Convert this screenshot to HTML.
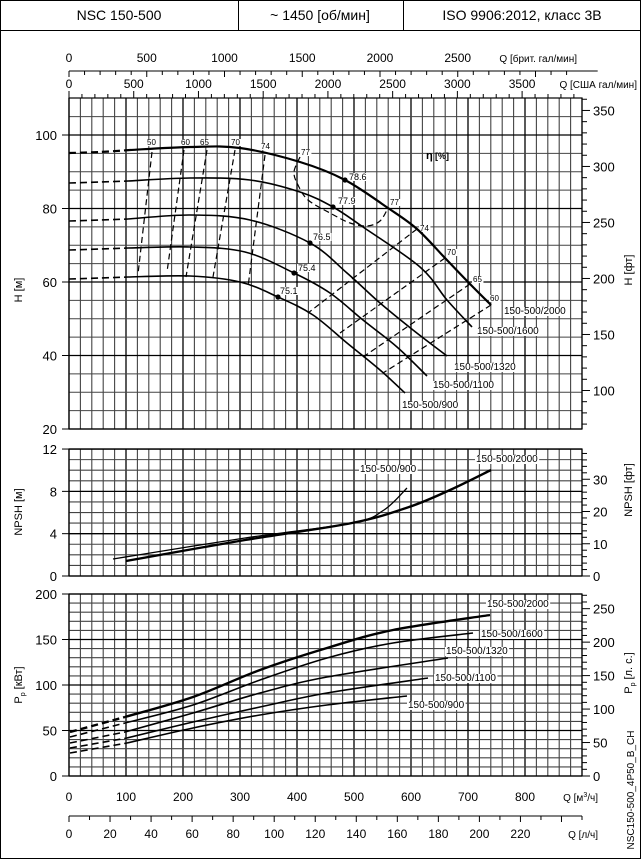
<!DOCTYPE html>
<html><head><meta charset="utf-8"><style>
body{margin:0;background:#fff}
svg{display:block;font-family:"Liberation Sans","DejaVu Sans",sans-serif}
</style></head><body>
<svg id="s" width="641" height="859" viewBox="0 0 641 859" xmlns="http://www.w3.org/2000/svg">
<rect x="0.5" y="0.5" width="640" height="858" fill="#fff" stroke="#000"/>
<line x1="0" y1="30.5" x2="641" y2="30.5" stroke="#000"/>
<line x1="238.5" y1="0" x2="238.5" y2="30" stroke="#000"/>
<line x1="403.5" y1="0" x2="403.5" y2="30" stroke="#000"/>
<text x="119" y="20" font-size="14" text-anchor="middle">NSC 150-500</text>
<text x="320" y="20" font-size="14" text-anchor="middle">~ 1450 [об/мин]</text>
<text x="522" y="20" font-size="14" text-anchor="middle">ISO 9906:2012, класс 3B</text>
<g id="g"></g>
</svg>
<script>
const NS="http://www.w3.org/2000/svg",G=document.getElementById('g');
function el(t,a,txt){const e=document.createElementNS(NS,t);for(const k in a)e.setAttribute(k,a[k]);if(txt!==undefined)e.textContent=txt;G.appendChild(e);return e;}
const X0=69,KX=0.57,XR=582;
const qx=q=>X0+q*KX;
function line(x1,y1,x2,y2,w,c,d){const a={x1,y1,x2,y2,stroke:c||'#000','stroke-width':w||1};if(d)a['stroke-dasharray']=d;el('line',a);}
function txt(x,y,s,sz,anc,extra){const a={x,y,'font-size':sz||11,'text-anchor':anc||'middle'};Object.assign(a,extra||{});return el('text',a,s);}
const panels=[{top:98,bot:429,y:v=>429-(v-20)*3.675,step:5,min:20,max:109,maj:20},
{top:449,bot:576,y:v=>576-v*10.58,step:1,min:0,max:12,maj:4},
{top:594,bot:776,y:v=>776-v*0.91,step:10,min:0,max:200,maj:50}];
panels.forEach(p=>{
 for(let q=0;qx(q)<XR-1;q+=20){const x=qx(q);line(x,p.top,x,p.bot,q%100==0?1.3:1.1,q%100==0?'#000':'#444');}
 for(let v=p.min;v<=p.max+0.01;v+=p.step){const y=p.y(v);line(X0,y,XR,y,v%p.maj==0?1.3:1.1,v%p.maj==0?'#000':'#444');}
 el('rect',{x:X0,y:p.top,width:XR-X0,height:p.bot-p.top,fill:'none',stroke:'#000','stroke-width':1.2});
});
[[0,[20,40,60,80,100]],[1,[0,4,8,12]],[2,[0,50,100,150,200]]].forEach(([i,vs])=>{const p=panels[i];vs.forEach(v=>{const y=p.y(v);line(62,y,X0,y,1);txt(57,y+5,String(v),13,'end');});});
function rt(p,conv,from,to,minor,major){for(let f=from;f<=to;f+=minor){const y=p.y(f*conv);if(y<p.top-0.5||y>p.bot+0.5)continue;const M=f%major==0;line(XR,y,XR+(M?8:5),y,1);if(M)txt(XR+11,y+5,String(f),13,'start');}line(XR,p.top,XR,p.bot,1.2);}
rt(panels[0],0.3048,70,360,10,50);
rt(panels[1],0.3048,0,38,2,10);
rt(panels[2],0.7355,0,270,10,50);
function rot(x,y,s,sz){return txt(x,y,s,sz||11,'middle',{transform:`rotate(-90 ${x} ${y})`});}
rot(22,290,'H [м]');rot(22,512,'NPSH [м]');
const pp=txt(22,685,'',11,'middle',{transform:'rotate(-90 22 685)'});pp.innerHTML='P<tspan font-size="7" dy="3">p</tspan><tspan dy="-3"> [кВт]</tspan>';
rot(632,270,'H [фт]');rot(632,490,'NPSH [фт]');
const pr=txt(632,673,'',11,'middle',{transform:'rotate(-90 632 673)'});pr.innerHTML='P<tspan font-size="7" dy="3">p</tspan><tspan dy="-3"> [л. с.]</tspan>';
rot(634,790,'NSC150-500_4P50_B_CH',10);
line(X0,71,qx(3400*0.2728),71,1);
for(let g=0;qx(g*0.2728)<=XR;g+=100){const x=qx(g*0.2728);line(x,71,x,g%500==0?77:75,1);if(g%500==0&&g<=2500)txt(x,62,String(g),12);}
txt(577,62,'Q [брит. гал/мин]',10,'end');
for(let g=0;qx(g*0.22712)<=XR;g+=100){const x=qx(g*0.22712);line(x,98,x,g%500==0?91:94,1);if(g%500==0&&g<=3500)txt(x,88,String(g),12);}
txt(637,88,'Q [США гал/мин]',10,'end');
for(let q=0;q<=800;q+=100)txt(qx(q),801,String(q),12);
const qb=txt(598,801,'',10,'end');qb.innerHTML='Q [м<tspan font-size="7" dy="-4">3</tspan><tspan dy="4">/ч]</tspan>';
line(X0,816,XR,816,1);
for(let l=0;qx(l*3.6)<=XR+0.5;l+=10){const x=qx(l*3.6);line(x,816,x,l%20==0?822:820,1);if(l%20==0&&l<=220)txt(x,838,String(l),12);}
txt(598,838,'Q [л/ч]',10,'end');
function sp(pts){let d=`M${pts[0][0]},${pts[0][1]}`;for(let i=0;i<pts.length-1;i++){const p0=pts[i-1]||pts[i],p1=pts[i],p2=pts[i+1],p3=pts[i+2]||p2;const c1=[p1[0]+(p2[0]-p0[0])/6,p1[1]+(p2[1]-p0[1])/6],c2=[p2[0]-(p3[0]-p1[0])/6,p2[1]-(p3[1]-p1[1])/6];d+=` C${c1[0]},${c1[1]} ${c2[0]},${c2[1]} ${p2[0]},${p2[1]}`;}return d;}
function curve(pts,w,dash){const a={d:sp(pts),fill:'none',stroke:'#000','stroke-width':w};if(dash)a['stroke-dasharray']=dash;el('path',a);}
function lab(x,y,s,sz,anc){const t=txt(x,y,s,sz||9,anc||'start');const b=t.getBBox();const r=document.createElementNS(NS,'rect');r.setAttribute('x',b.x-1);r.setAttribute('y',b.y+1);r.setAttribute('width',b.width+2);r.setAttribute('height',b.height-2);r.setAttribute('fill','#fff');G.insertBefore(r,t);}
const D='7,4';
// labels first (so curves draw on top)
lab(147,145,'50',8);lab(181,145,'60',8);lab(200,145,'65',8);lab(231,145,'70',8);lab(261,149,'74',8);
lab(301,155,'77',8);lab(349,180,'78.6',9);lab(338,204,'77.9',9);lab(313,240,'76.5',9);lab(298,271,'75.4',9);lab(280,294,'75.1',9);
lab(390,205,'77',8);lab(420,231,'74',8);lab(447,255,'70',8);lab(473,282,'65',8);lab(490,301,'60',8);
lab(504,314,'150-500/2000',10);lab(477,334,'150-500/1600',10);lab(454,370,'150-500/1320',10);lab(433,388,'150-500/1100',10);lab(402,408,'150-500/900',10);
curve([[69,153],[100,152],[130,150]],2.2,D);
curve([[130,150],[190,147],[240,148],[300,162],[345,180],[388,208],[417,229],[445,258],[470,284],[491,305]],2.2);
curve([[69,183],[100,182],[128,181]],1.6,D);
curve([[128,181],[190,178],[250,180],[300,192],[333,207],[363,227],[420,267],[447,300],[472,327]],1.6);
curve([[69,221],[100,220],[128,219]],1.6,D);
curve([[128,219],[190,215],[250,220],[310,243],[347,273],[380,303],[413,330],[447,356]],1.6);
curve([[69,250],[100,249],[128,248]],1.6,D);
curve([[128,248],[190,247],[245,252],[294,273],[330,293],[363,320],[397,347],[427,376]],1.6);
curve([[69,279],[100,278],[128,277]],1.6,D);
curve([[128,277],[190,276],[240,282],[278,297],[313,315],[347,343],[380,370],[405,393]],1.6);
const ED='6,3.5';
[[152,152,138,274],[184,150,167,272],[207,150,186,277],[235,150,213,277],[265,155,248,287],
 [417,229,308,313],[445,258,340,333],[470,284,363,357],[491,305,383,373]].forEach(l=>line(l[0],l[1],l[2],l[3],1.2,'#000',ED));
curve([[300,157],[294,172],[298,185],[308,200],[330,213],[350,223],[367,226],[380,221],[388,208]],1.2,ED);
[[345,180],[333,207],[310,243],[294,273],[278,297]].forEach(p=>el('circle',{cx:p[0],cy:p[1],r:2.6}));
txt(426,159,'η',11,'start',{'font-weight':'bold'});txt(435,159,'[%]',9,'start',{'font-weight':'bold'});
lab(360,472,'150-500/900',10);lab(476,462,'150-500/2000',10);
curve([[113,559],[245,538],[352,523],[384,510],[407,488]],1.3);
curve([[126,561],[245,540],[352,523],[409,507],[450,490],[491,470]],2.4);
lab(487,607,'150-500/2000',10);lab(481,637,'150-500/1600',10);lab(446,654,'150-500/1320',10);lab(435,681,'150-500/1100',10);lab(408,708,'150-500/900',10);
const PW=[[2.4,[[70,732],[125,717]],[[125,717],[193,697],[260,670],[327,648],[393,630],[490,615]]],
[1.6,[[70,737],[125,723]],[[125,723],[193,705],[260,680],[327,658],[393,643],[473,633]]],
[1.6,[[70,743],[125,732]],[[125,732],[193,713],[260,693],[327,677],[448,658]]],
[1.6,[[70,748],[127,738]],[[127,738],[193,722],[260,707],[327,693],[428,678]]],
[1.6,[[70,753],[127,743]],[[127,743],[193,728],[260,715],[327,705],[407,696]]]];
PW.forEach(c=>{curve(c[1],c[0],D);curve(c[2],c[0]);});
</script>
</body></html>
